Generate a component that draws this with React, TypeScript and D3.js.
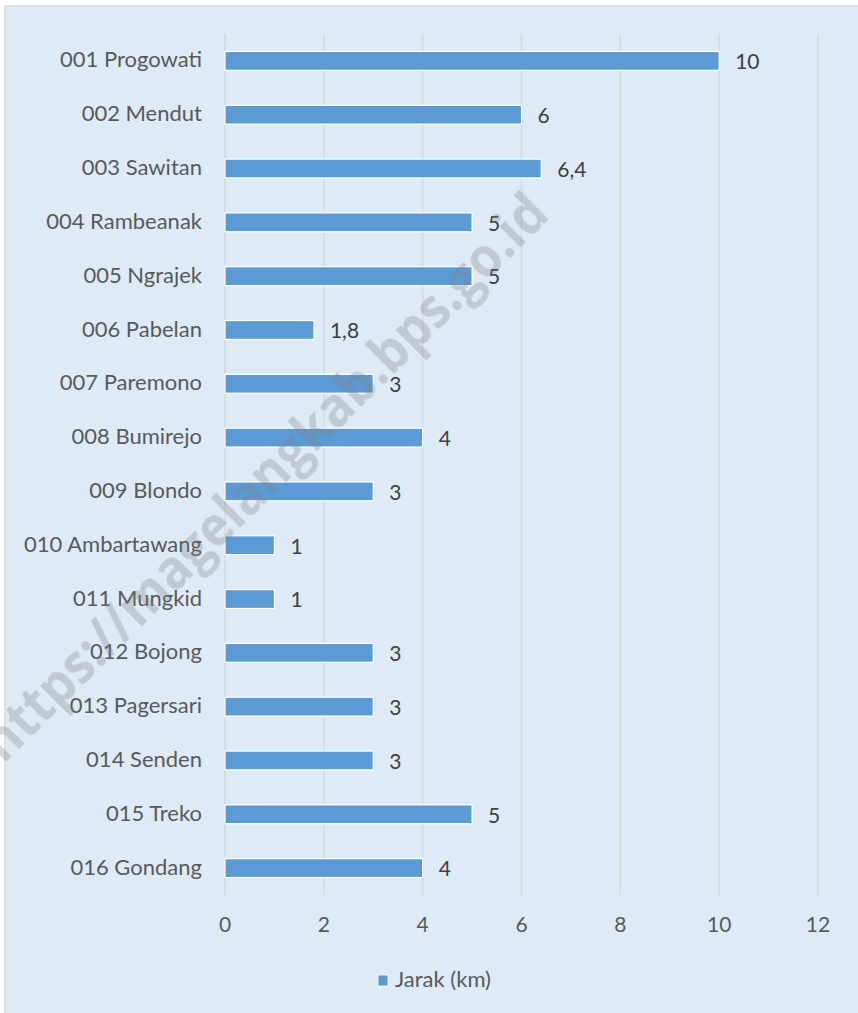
import React from "react";
import * as d3 from "d3";

const categories = [
  "001 Progowati",
  "002 Mendut",
  "003 Sawitan",
  "004 Rambeanak",
  "005 Ngrajek",
  "006 Pabelan",
  "007 Paremono",
  "008 Bumirejo",
  "009 Blondo",
  "010 Ambartawang",
  "011 Mungkid",
  "012 Bojong",
  "013 Pagersari",
  "014 Senden",
  "015 Treko",
  "016 Gondang",
];
const jarak = [10, 6, 6.4, 5, 5, 1.8, 3, 4, 3, 1, 1, 3, 3, 3, 5, 4];
const ticks = [0, 2, 4, 6, 8, 10, 12];
const seriesName = "Jarak (km)";

const W = 858;
const H = 1013;
const FONT = "Lato, 'Noto Sans', sans-serif";

export default function App() {
  const x = d3.scaleLinear().domain([0, 12]).range([225, 818]);
  const y = d3
    .scaleBand<string>()
    .domain(categories)
    .range([34, 895])
    .paddingInner(0.65)
    .paddingOuter(0.325);
  const fmt = (v: number) => String(v).replace(".", ",");

  return (
    <svg
      width={W}
      height={H}
      style={{ position: "fixed", left: 0, top: 0, display: "block" }}
      fontFamily={FONT}
    >
      <rect x={0} y={0} width={W} height={H} fill="#ffffff" />
      <rect x={5} y={6} width={W + 10} height={H + 10} fill="#deebf7" stroke="#d9d9d9" strokeWidth={1.5} />

      {ticks.map((t) => (
        <g key={t}>
          <line x1={x(t)} x2={x(t)} y1={34} y2={895} stroke="#d9d9d9" strokeWidth={1.5} />
          <text x={x(t)} y={927} textAnchor="middle" dominantBaseline="middle" fontSize={21} fill="#595959">
            {t}
          </text>
        </g>
      ))}

      {categories.map((c, i) => {
        const y0 = y(c)!;
        const cy = y0 + y.bandwidth() / 2;
        return (
          <g key={c}>
            <rect
              x={x(0)}
              y={y0}
              width={x(jarak[i]) - x(0)}
              height={y.bandwidth()}
              fill="#5b9bd5"
              stroke="#ffffff"
              strokeWidth={1.2}
            />
            <text x={202} y={cy + 1} textAnchor="end" dominantBaseline="middle" fontSize={22} fill="#595959">
              {c}
            </text>
            <text x={x(jarak[i]) + 16} y={cy + 3} dominantBaseline="middle" fontSize={21} fill="#404040">
              {fmt(jarak[i])}
            </text>
          </g>
        );
      })}

      <g>
        <rect x={378} y={975} width={10} height={11} fill="#5b9bd5" stroke="#ffffff" strokeWidth={0.8} />
        <text x={395} y={981} dominantBaseline="middle" fontSize={22} fill="#595959">
          {seriesName}
        </text>
      </g>

      {/* watermark */}
      <text
        x={267}
        y={480}
        transform="rotate(-45 267 480)"
        textAnchor="middle"
        dominantBaseline="middle"
        fontSize={56}
        fontWeight="bold"
        fill="#7f7f7f"
        fillOpacity={0.3}
        textLength={775}
        lengthAdjust="spacingAndGlyphs"
        fontFamily="'Open Sans', sans-serif"
      >
        https://magelangkab.bps.go.id
      </text>
    </svg>
  );
}
